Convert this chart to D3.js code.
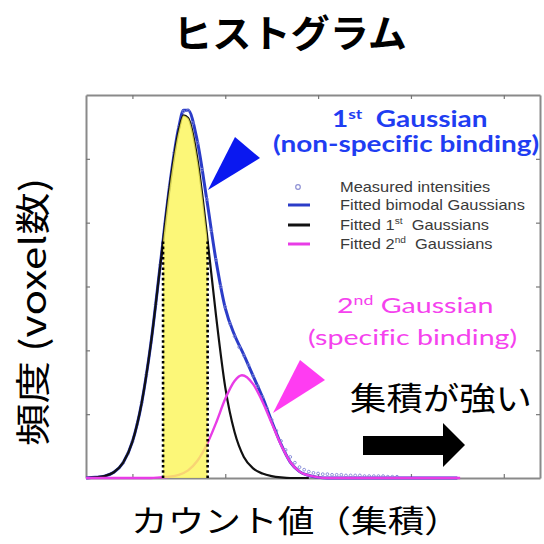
<!DOCTYPE html>
<html>
<head>
<meta charset="utf-8">
<script src="https://cdn.jsdelivr.net/npm/d3@7"></script>
<style>
  body { margin: 0; background: #fff; }
  svg { display: block; }
  text { font-variant-ligatures: none; }
</style>
</head>
<body>
<script>
// values (x = count value, y = frequency)
var fit1X = [0.5, 0.6, 0.7, 0.8, 0.9, 1.0, 1.1, 1.2, 1.3, 1.4, 1.5, 1.55, 1.6, 1.7, 1.8, 1.9, 2.0, 2.1, 2.2, 2.3, 2.4, 2.5, 2.6, 2.7, 2.9];
var fit1Y = [0.00, 0.01, 0.03, 0.09, 0.24, 0.57, 1.18, 2.12, 3.33, 4.55, 5.45, 5.68, 5.64, 5.00, 3.85, 2.55, 1.42, 0.72, 0.33, 0.15, 0.07, 0.03, 0.01, 0.00, 0.00];

var fit2X = [0.5, 1.2, 1.3, 1.4, 1.5, 1.6, 1.7, 1.8, 1.9, 2.0, 2.1, 2.18, 2.3, 2.4, 2.5, 2.6, 2.7, 2.8, 2.9, 3.0, 3.1, 4.53];
var fit2Y = [0.00, 0.00, 0.01, 0.02, 0.05, 0.12, 0.27, 0.52, 0.86, 1.24, 1.52, 1.61, 1.47, 1.20, 0.86, 0.52, 0.25, 0.10, 0.04, 0.01, 0.00, 0.00];

var bimodalX = [0.5, 0.6, 0.7, 0.8, 0.9, 1.0, 1.1, 1.2, 1.3, 1.4, 1.5, 1.55, 1.6, 1.7, 1.8, 1.9, 2.0, 2.1, 2.2, 2.3, 2.4, 2.5, 2.6, 2.7, 2.8, 2.9, 3.0, 3.1, 4.5];
var bimodalY = [0.00, 0.01, 0.03, 0.09, 0.24, 0.57, 1.18, 2.12, 3.34, 4.57, 5.50, 5.76, 5.76, 5.27, 4.37, 3.41, 2.66, 2.24, 1.93, 1.60, 1.27, 0.89, 0.53, 0.25, 0.10, 0.04, 0.01, 0.00, 0.00];

var measuredX = [0.90, 0.95, 1.00, 1.05, 1.10, 1.15, 1.20, 1.25, 1.30, 1.35, 1.40, 1.45, 1.50, 1.55, 1.60, 1.65, 1.70, 1.75, 1.80, 1.85,
                 1.90, 1.95, 2.00, 2.05, 2.10, 2.15, 2.20, 2.25, 2.30, 2.35, 2.40, 2.45, 2.50, 2.55, 2.60, 2.65, 2.70, 2.75, 2.80, 2.85,
                 2.90, 2.95, 3.00, 3.05, 3.10, 3.15, 3.20, 3.25, 3.30, 3.35, 3.40, 3.45, 3.50, 3.55, 3.60, 3.65, 3.70, 3.75, 3.80, 3.85];
var measuredY = [0.24, 0.38, 0.57, 0.84, 1.18, 1.62, 2.12, 2.72, 3.34, 3.98, 4.57, 5.10, 5.50, 5.74, 5.76, 5.56, 5.25, 4.83, 4.37, 3.88,
                 3.42, 3.00, 2.68, 2.42, 2.22, 2.05, 1.92, 1.77, 1.60, 1.44, 1.27, 1.09, 0.91, 0.74, 0.58, 0.44, 0.33, 0.24, 0.17, 0.13,
                 0.10, 0.08, 0.07, 0.06, 0.06, 0.05, 0.05, 0.05, 0.04, 0.04, 0.04, 0.04, 0.03, 0.03, 0.03, 0.03, 0.03, 0.02, 0.02, 0.02];

// highlighted band under the 1st gaussian (dotted edges)
var bandX = [1.33, 1.81];
var bandTop = [3.73, 3.73];

var xTicks = [1, 2, 3, 4, 5];
var yTicks = [1, 2, 3, 4, 5];

var legendLabels = [["Measured intensities"], ["Fitted bimodal Gaussians"], ["Fitted 1", "st", "  Gaussians"], ["Fitted 2", "nd", "  Gaussians"]];

var W = 544, H = 544;
var plot = {left: 86, right: 540, top: 95, bottom: 478};

var cBlue = "#2b3cc8", cPink = "#e83ce6", cBlack = "#111";
var jp = "'Noto Sans CJK JP', 'Noto Sans', sans-serif";

var svg = d3.select("body").append("svg")
  .attr("width", W)
  .attr("height", H);

var x = d3.scaleLinear().domain([0.5, 5.39]).range([plot.left, plot.right]);
var y = d3.scaleLinear().domain([0, 6]).range([plot.bottom, plot.top]);

function pts(xs, ys) { return xs.map(function(v, i) { return [v, ys[i]]; }); }

var line = d3.line()
  .x(function(d) { return x(d[0]); })
  .y(function(d) { return y(d[1]); })
  .curve(d3.curveMonotoneX);

// axes box, ticks pointing inward, no readable labels
function styleAxis(g) {
  g.select(".domain").attr("stroke", "#8a8a8a").attr("stroke-width", 2);
  g.selectAll(".tick line").attr("stroke", "#777").attr("stroke-width", 1.2);
}
svg.append("g").attr("transform", "translate(0," + plot.bottom + ")")
  .call(d3.axisBottom(x).tickValues(xTicks).tickSize(-4).tickSizeOuter(0).tickFormat(""))
  .call(styleAxis);
svg.append("g").attr("transform", "translate(0," + plot.top + ")")
  .call(d3.axisTop(x).tickValues(xTicks).tickSize(-4).tickSizeOuter(0).tickFormat(""))
  .call(styleAxis);
svg.append("g").attr("transform", "translate(" + plot.left + ",0)")
  .call(d3.axisLeft(y).tickValues(yTicks).tickSize(-4).tickSizeOuter(0).tickFormat(""))
  .call(styleAxis);
svg.append("g").attr("transform", "translate(" + plot.right + ",0)")
  .call(d3.axisRight(y).tickValues(yTicks).tickSize(-4).tickSizeOuter(0).tickFormat(""))
  .call(styleAxis);

// curves
svg.append("path").datum(pts(bimodalX, bimodalY))
  .attr("d", line).attr("fill", "none").attr("stroke", cBlue).attr("stroke-width", 3);

svg.selectAll(".meas").data(pts(measuredX, measuredY)).enter()
  .append("circle").attr("class", "meas")
  .attr("cx", function(d) { return x(d[0]); })
  .attr("cy", function(d) { return y(d[1]); })
  .attr("r", 1.4)
  .attr("fill", "none").attr("stroke", "#7f86d6").attr("stroke-width", 0.9);

svg.append("path").datum(pts(fit1X, fit1Y))
  .attr("d", line).attr("fill", "none").attr("stroke", cBlack).attr("stroke-width", 2.2);

svg.append("path").datum(pts(fit2X, fit2Y))
  .attr("d", line).attr("fill", "none").attr("stroke", cPink).attr("stroke-width", 2.4);

// yellow band under the 1st gaussian
svg.append("clipPath").attr("id", "band")
  .append("rect")
  .attr("x", x(bandX[0])).attr("y", plot.top)
  .attr("width", x(bandX[1]) - x(bandX[0])).attr("height", plot.bottom - plot.top);

var area = d3.area()
  .x(function(d) { return x(d[0]); })
  .y0(y(0))
  .y1(function(d) { return y(d[1]); })
  .curve(d3.curveMonotoneX);

svg.append("path").datum(pts(fit1X, fit1Y))
  .attr("d", area)
  .attr("clip-path", "url(#band)")
  .attr("fill", "#fbf55a").attr("opacity", 0.82);

svg.selectAll(".edge").data(bandX).enter()
  .append("line").attr("class", "edge")
  .attr("x1", function(d) { return x(d); }).attr("x2", function(d) { return x(d); })
  .attr("y1", y(0)).attr("y2", function(d, i) { return y(bandTop[i]); })
  .attr("stroke", "#000").attr("stroke-width", 2.6).attr("stroke-dasharray", "2.6,2.6");

// text helper: parts alternate normal / superscript
function label(parent, tx, ty, parts, o) {
  var t = parent.append("text")
    .attr("transform", "translate(" + tx + "," + ty + ") scale(" + (o.sx || 1) + ",1)")
    .attr("font-family", o.font).attr("font-size", o.size)
    .attr("font-weight", o.weight || "normal").attr("fill", o.color)
    .attr("text-anchor", o.anchor || "start")
    .style("white-space", "pre");
  var shift = o.size * 0.38;
  parts.forEach(function(p, i) {
    var s = t.append("tspan").text(p);
    if (i % 2 == 1) s.attr("dy", -shift).attr("font-size", o.size * 0.62);
    else if (i > 0) s.attr("dy", shift);
  });
  return t;
}

// blue annotation
var blueFont = {font: "Lato, sans-serif", size: 22, weight: "bold", color: "#1f3df2", sx: 1.27};
label(svg, 332, 127, ["1", "st", "  Gaussian"], blueFont);
label(svg, 273, 152, ["(non-specific binding)"], blueFont);
svg.append("path")
  .attr("d", "M208,190 L235,137 L260,158 Z")
  .attr("fill", "#0a18f0");

// legend
var leg = svg.append("g");
var legY = [187, 205, 225, 244];
leg.append("circle").attr("cx", 298).attr("cy", legY[0]).attr("r", 2.3)
  .attr("fill", "none").attr("stroke", "#8e90d4").attr("stroke-width", 1.2);
[cBlue, cBlack, cPink].forEach(function(c, i) {
  leg.append("line").attr("x1", 288).attr("x2", 310)
    .attr("y1", legY[i + 1]).attr("y2", legY[i + 1])
    .attr("stroke", c).attr("stroke-width", 3);
});
legendLabels.forEach(function(parts, i) {
  label(leg, 340, legY[i] + 5, parts, {font: "'Liberation Sans', Arial, sans-serif", size: 14.5, color: "#3a3a3a", sx: 1.13});
});

// pink annotation
var pinkFont = {font: "Lato, sans-serif", size: 22, color: "#f542ee", sx: 1.3};
label(svg, 337, 313, ["2", "nd", " Gaussian"], pinkFont);
label(svg, 308, 345, ["(specific binding)"], pinkFont);
svg.append("path")
  .attr("d", "M273,413 L300,360 L325,380 Z")
  .attr("fill", "#ff3cf2");

// "stronger accumulation" note + arrow
svg.append("text")
  .attr("x", 350).attr("y", 410)
  .attr("font-family", jp).attr("font-size", 32)
  .attr("textLength", 182).attr("lengthAdjust", "spacingAndGlyphs")
  .text("集積が強い");
svg.append("path")
  .attr("d", "M363,436 L443,436 L443,423 L465,445 L443,467 L443,455 L363,455 Z")
  .attr("fill", "#000");

// title and axis titles
svg.append("text")
  .attr("x", 290).attr("y", 47)
  .attr("text-anchor", "middle")
  .attr("font-family", jp).attr("font-size", 38).attr("font-weight", "bold")
  .attr("textLength", 234).attr("lengthAdjust", "spacingAndGlyphs")
  .text("ヒストグラム");

svg.append("text")
  .attr("x", 131).attr("y", 532)
  .attr("font-family", jp).attr("font-size", 31)
  .attr("textLength", 330).attr("lengthAdjust", "spacingAndGlyphs")
  .text("カウント値（集積）");

svg.append("text")
  .attr("transform", "translate(46,312) rotate(-90)")
  .attr("text-anchor", "middle")
  .attr("font-family", jp).attr("font-size", 35)
  .attr("textLength", 268).attr("lengthAdjust", "spacingAndGlyphs")
  .text("頻度 (voxel数)");
</script>
</body>
</html>
